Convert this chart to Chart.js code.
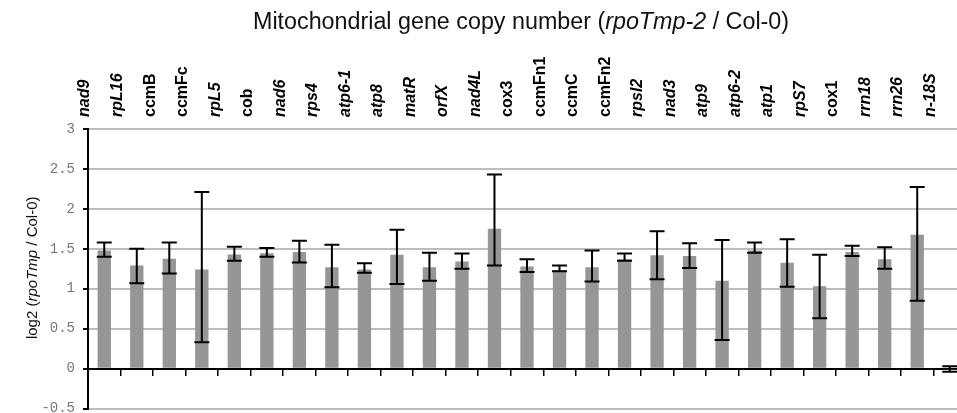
<!DOCTYPE html>
<html><head><meta charset="utf-8">
<script src="https://cdn.jsdelivr.net/npm/chart.js@4"></script>
<style>
html,body{margin:0;padding:0;overflow:hidden;background:#fff;width:957px;height:413px}
#wrap{position:absolute;left:0;top:0;width:980px;height:425px}
</style>
</head><body><div id="wrap"><canvas id="c" width="980" height="425"></canvas></div>
<script>
const genes = ['nad9','rpL16','ccmB','ccmFc','rpL5','cob','nad6','rps4','atp6-1','atp8','matR','orfX','nad4L','cox3','ccmFn1','ccmC','ccmFn2','rpsl2','nad3','atp9','atp6-2','atp1','rpS7','cox1','rrn18','rrn26','n-18S'];
const uprightGenes = ['ccmB','ccmFc','cob','cox3','ccmFn1','ccmC','ccmFn2','cox1'];
const log2Ratio = [1.48,1.29,1.375,1.24,1.43,1.445,1.46,1.27,1.24,1.425,1.27,1.34,1.75,1.28,1.23,1.27,1.37,1.42,1.41,1.10,1.48,1.325,1.03,1.46,1.37,1.675,-0.01];
const errTop = [1.58,1.50,1.58,2.21,1.525,1.51,1.60,1.55,1.32,1.74,1.45,1.44,2.43,1.37,1.29,1.48,1.44,1.72,1.57,1.61,1.58,1.62,1.425,1.54,1.52,2.275,0.03];
const errBottom = [1.40,1.07,1.19,0.33,1.35,1.40,1.33,1.02,1.20,1.06,1.10,1.25,1.29,1.21,1.22,1.09,1.35,1.12,1.26,0.36,1.45,1.025,0.63,1.41,1.25,0.85,-0.04];
const yMin = -0.5, yMax = 3, yStep = 0.5;

const SANS = '"Liberation Sans", Arial, Helvetica, sans-serif';

function drawRuns(ctx, runs, x, y, size) {
  let cx = x;
  for (const [txt, it] of runs) {
    ctx.font = (it ? 'italic ' : '') + size + 'px ' + SANS;
    ctx.fillText(txt, cx, y);
    cx += ctx.measureText(txt).width;
  }
}
function runsWidth(ctx, runs, size) {
  let w = 0;
  for (const [txt, it] of runs) {
    ctx.font = (it ? 'italic ' : '') + size + 'px ' + SANS;
    w += ctx.measureText(txt).width;
  }
  return w;
}

const textPlugin = {
  id: 'texts',
  afterDraw(chart) {
    const ctx = chart.ctx;
    ctx.save();
    ctx.fillStyle = '#111';
    ctx.textBaseline = 'alphabetic';
    ctx.textAlign = 'left';
    const title = [['Mitochondrial gene copy number (', false], ['rpoTmp-2', true], [' / Col-0)', false]];
    const tw = runsWidth(ctx, title, 23.3);
    drawRuns(ctx, title, 521 - tw / 2, 29, 23.3);
    const ya = [['log2 (', false], ['rpoTmp', true], [' / Col-0)', false]];
    const ca = chart.chartArea;
    const yw = runsWidth(ctx, ya, 15);
    ctx.translate(37, (ca.top + ca.bottom) / 2 - 1);
    ctx.rotate(-Math.PI / 2);
    drawRuns(ctx, ya, -yw / 2, 0, 15);
    ctx.restore();
  }
};

const errPlugin = {
  id: 'errbars',
  afterDatasetsDraw(chart) {
    const ctx = chart.ctx, y = chart.scales.y;
    const meta = chart.getDatasetMeta(0);
    ctx.save();
    ctx.strokeStyle = '#000';
    ctx.lineWidth = 2;
    meta.data.forEach((bar, i) => {
      const x = bar.x;
      const t = y.getPixelForValue(errTop[i]);
      const b = y.getPixelForValue(errBottom[i]);
      ctx.beginPath();
      ctx.moveTo(x, t); ctx.lineTo(x, b);
      ctx.moveTo(x - 7.5, t); ctx.lineTo(x + 7.5, t);
      ctx.moveTo(x - 7.5, b); ctx.lineTo(x + 7.5, b);
      ctx.stroke();
    });
    ctx.restore();
  }
};

new Chart(document.getElementById('c'), {
  type: 'bar',
  data: {
    labels: genes,
    datasets: [{
      data: log2Ratio,
      backgroundColor: '#969696',
      borderWidth: 0,
      barPercentage: 0.41,
      categoryPercentage: 1.0,
      xAxisID: 'x',
      yAxisID: 'y'
    }]
  },
  options: {
    responsive: false,
    animation: false,
    devicePixelRatio: 1,
    layout: { padding: { left: 0, right: 14, top: 0, bottom: 15 } },
    plugins: { legend: { display: false }, tooltip: { enabled: false }, title: { display: false } },
    scales: {
      x: {
        type: 'category',
        position: 'top',
        offset: true,
        grid: { display: false, drawTicks: false },
        border: { display: false },
        ticks: {
          autoSkip: false,
          minRotation: 90,
          maxRotation: 90,
          padding: 12,
          color: '#000',
          font: (c) => {
            const lab = (c && c.index !== undefined) ? genes[c.index] : '';
            return { family: SANS, size: 16, weight: 'bold', style: uprightGenes.includes(lab) ? 'normal' : 'italic' };
          }
        },
        afterFit: (s) => { s.height = 129; }
      },
      x0: {
        type: 'category',
        labels: genes,
        position: { y: 0 },
        offset: true,
        z: 2,
        grid: { offset: true, drawOnChartArea: false, drawTicks: true, tickLength: 6, color: '#000', tickColor: '#000', lineWidth: 1.5 },
        border: { display: true, color: '#000', width: 2 },
        ticks: { display: false }
      },
      y: {
        position: 'left',
        min: yMin,
        max: yMax,
        ticks: {
          stepSize: yStep,
          padding: 8,
          color: '#777',
          font: { family: '"Liberation Mono", "Courier New", monospace', size: 14 },
          callback: (v) => String(+Number(v).toFixed(2))
        },
        grid: { color: '#bdbdbd', lineWidth: 2, tickColor: '#000', tickLength: 5, tickWidth: 2 },
        border: { display: true, color: '#000', width: 2 },
        afterFit: (s) => { s.width = 88; }
      }
    }
  },
  plugins: [errPlugin, textPlugin]
});
</script>
</body></html>
